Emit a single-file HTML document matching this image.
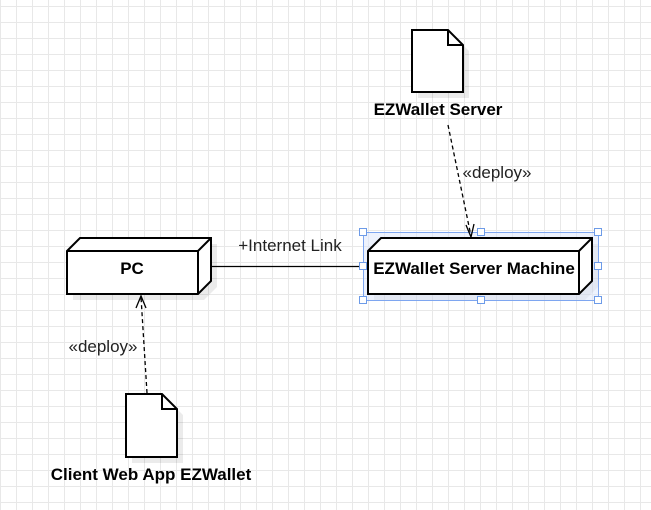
<!DOCTYPE html>
<html><head><style>
html,body{margin:0;padding:0;background:#fff;}
body{width:651px;height:510px;overflow:hidden;
background-image:linear-gradient(to right,#e8e8e8 1px,transparent 1px),linear-gradient(to bottom,#e8e8e8 1px,transparent 1px);
background-size:16px 16px;background-position:0 6px;}
svg{position:absolute;left:0;top:0;}
text{font-family:"Liberation Sans",Arial,sans-serif;}
</style></head><body>
<svg width="651" height="510" viewBox="0 0 651 510">
<g fill="#000" opacity="0.08">
<path d="M73 257 L86 244 L217 244 L217 287 L204 300 L73 300Z"/>
<path d="M374 257 L387 244 L598 244 L598 287 L585 300 L374 300Z"/>
<path d="M418 36 L454 36 L469 51 L469 98 L418 98Z"/>
<path d="M132 400 L168 400 L183 415 L183 463 L132 463Z"/>
</g>
<g stroke="#000" stroke-width="2" fill="#fff" stroke-linejoin="miter">
<path d="M67 251 L80 238 L211 238 L211 281 L198 294 L67 294Z"/>
<path d="M67 251 L198 251 L211 238 M198 251 L198 294" fill="none"/>
</g>
<text x="132" y="274" font-size="17" font-weight="bold" text-anchor="middle">PC</text>
<rect x="363" y="232" width="235" height="68" fill="#dbe6fb" opacity="0.5"/>
<g stroke="#000" stroke-width="2" fill="#fff">
<path d="M368 251 L381 238 L592 238 L592 281 L579 294 L368 294Z"/>
<path d="M368 251 L579 251 L592 238 M579 251 L579 294" fill="none"/>
</g>
<text x="474" y="274" font-size="17" font-weight="bold" text-anchor="middle">EZWallet Server Machine</text>
<rect x="363.5" y="232.5" width="235" height="68" fill="none" stroke="#7ea6f0" stroke-width="1"/>
<line x1="212" y1="266.5" x2="363" y2="266.5" stroke="#000" stroke-width="1.3"/>
<text x="290" y="251" font-size="17" text-anchor="middle" fill="#222">+Internet Link</text>
<g fill="#fff" stroke="#6d9be8" stroke-width="1">
<rect x="359.5" y="228.5" width="7" height="7"/><rect x="477.5" y="228.5" width="7" height="7"/><rect x="594.5" y="228.5" width="7" height="7"/>
<rect x="359.5" y="262.5" width="7" height="7"/><rect x="594.5" y="262.5" width="7" height="7"/>
<rect x="359.5" y="296.5" width="7" height="7"/><rect x="477.5" y="296.5" width="7" height="7"/><rect x="594.5" y="296.5" width="7" height="7"/>
</g>
<g stroke="#000" stroke-width="2" fill="#fff">
<path d="M412 30 L448 30 L463 45 L463 92 L412 92Z"/>
<path d="M448 30 L448 45 L463 45" fill="none"/>
<path d="M126 394 L162 394 L177 409 L177 457 L126 457Z"/>
<path d="M162 394 L162 409 L177 409" fill="none"/>
</g>
<text x="438" y="115" font-size="17" font-weight="bold" text-anchor="middle">EZWallet Server</text>
<text x="151" y="480" font-size="17" font-weight="bold" text-anchor="middle">Client Web App EZWallet</text>
<g stroke="#000" stroke-width="1.3" fill="none">
<path d="M448 125 L471 236" stroke-dasharray="4 3"/>
<path d="M466 225 L471 237 L474 224"/>
<path d="M147 393 L141 297" stroke-dasharray="4 3"/>
<path d="M136 308 L141 296 L146 308"/>
</g>
<text x="497" y="178" font-size="17" text-anchor="middle" fill="#222">«deploy»</text>
<text x="103" y="352" font-size="17" text-anchor="middle" fill="#222">«deploy»</text>
</svg>
</body></html>
